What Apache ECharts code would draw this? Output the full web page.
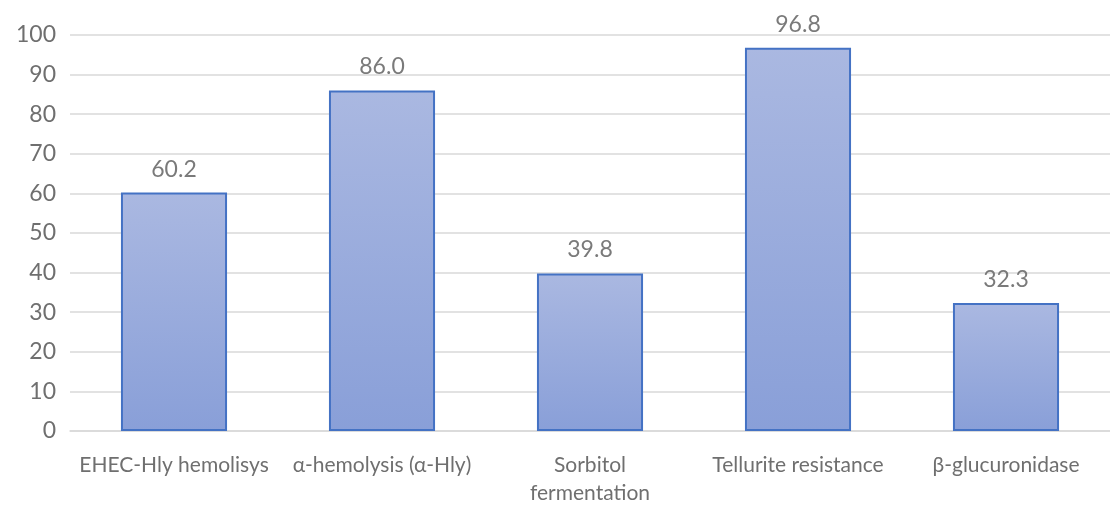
<!DOCTYPE html>
<html>
<head>
<meta charset="utf-8">
<script src="https://cdn.jsdelivr.net/npm/echarts@6/dist/echarts.min.js"></script>
<style>
  html, body { margin: 0; padding: 0; background: #fff; }
  #chart { width: 1110px; height: 507px; }
</style>
</head>
<body>
<div id="chart"></div>
<script>
const categories = ['EHEC-Hly hemolisys', 'α-hemolysis (α-Hly)', 'Sorbitol\nfermentation', 'Tellurite resistance', 'β-glucuronidase']
const values = [60.2, 86.0, 39.8, 96.8, 32.3]

const chart = echarts.init(document.getElementById('chart'))

const option = {
  animation: false,
  textStyle: { fontFamily: 'Lato' },
  grid: {
    left: 70,
    top: 35,
    width: 1048,
    bottom: 76
  },
  xAxis: {
    type: 'category',
    data: categories,
    axisTick: { show: false },
    axisLine: { lineStyle: { color: '#d9d9d9', width: 1.5 } },
    axisLabel: {
      color: '#6f6f6f',
      fontSize: 21,
      margin: 20,
      lineHeight: 28,
      interval: 0
    }
  },
  yAxis: {
    type: 'value',
    min: 0,
    max: 100,
    interval: 10,
    axisLine: { show: false },
    axisTick: { show: false },
    splitLine: { lineStyle: { color: '#d9d9d9', width: 1.5 } },
    axisLabel: { color: '#6f6f6f', fontSize: 23, margin: 14 }
  },
  series: [{
    type: 'bar',
    data: values,
    barWidth: '51%',
    itemStyle: {
      color: new echarts.graphic.LinearGradient(0, 0, 0, 1, [
        { offset: 0, color: '#aab8e1' },
        { offset: 1, color: '#899fd8' }
      ]),
      borderColor: '#4472c4',
      borderWidth: 2
    },
    label: {
      show: true,
      position: 'top',
      distance: 12,
      color: '#7a7a7a',
      fontSize: 23,
      formatter: p => p.value.toFixed(1)
    }
  }]
}

chart.setOption(option)
</script>
</body>
</html>
